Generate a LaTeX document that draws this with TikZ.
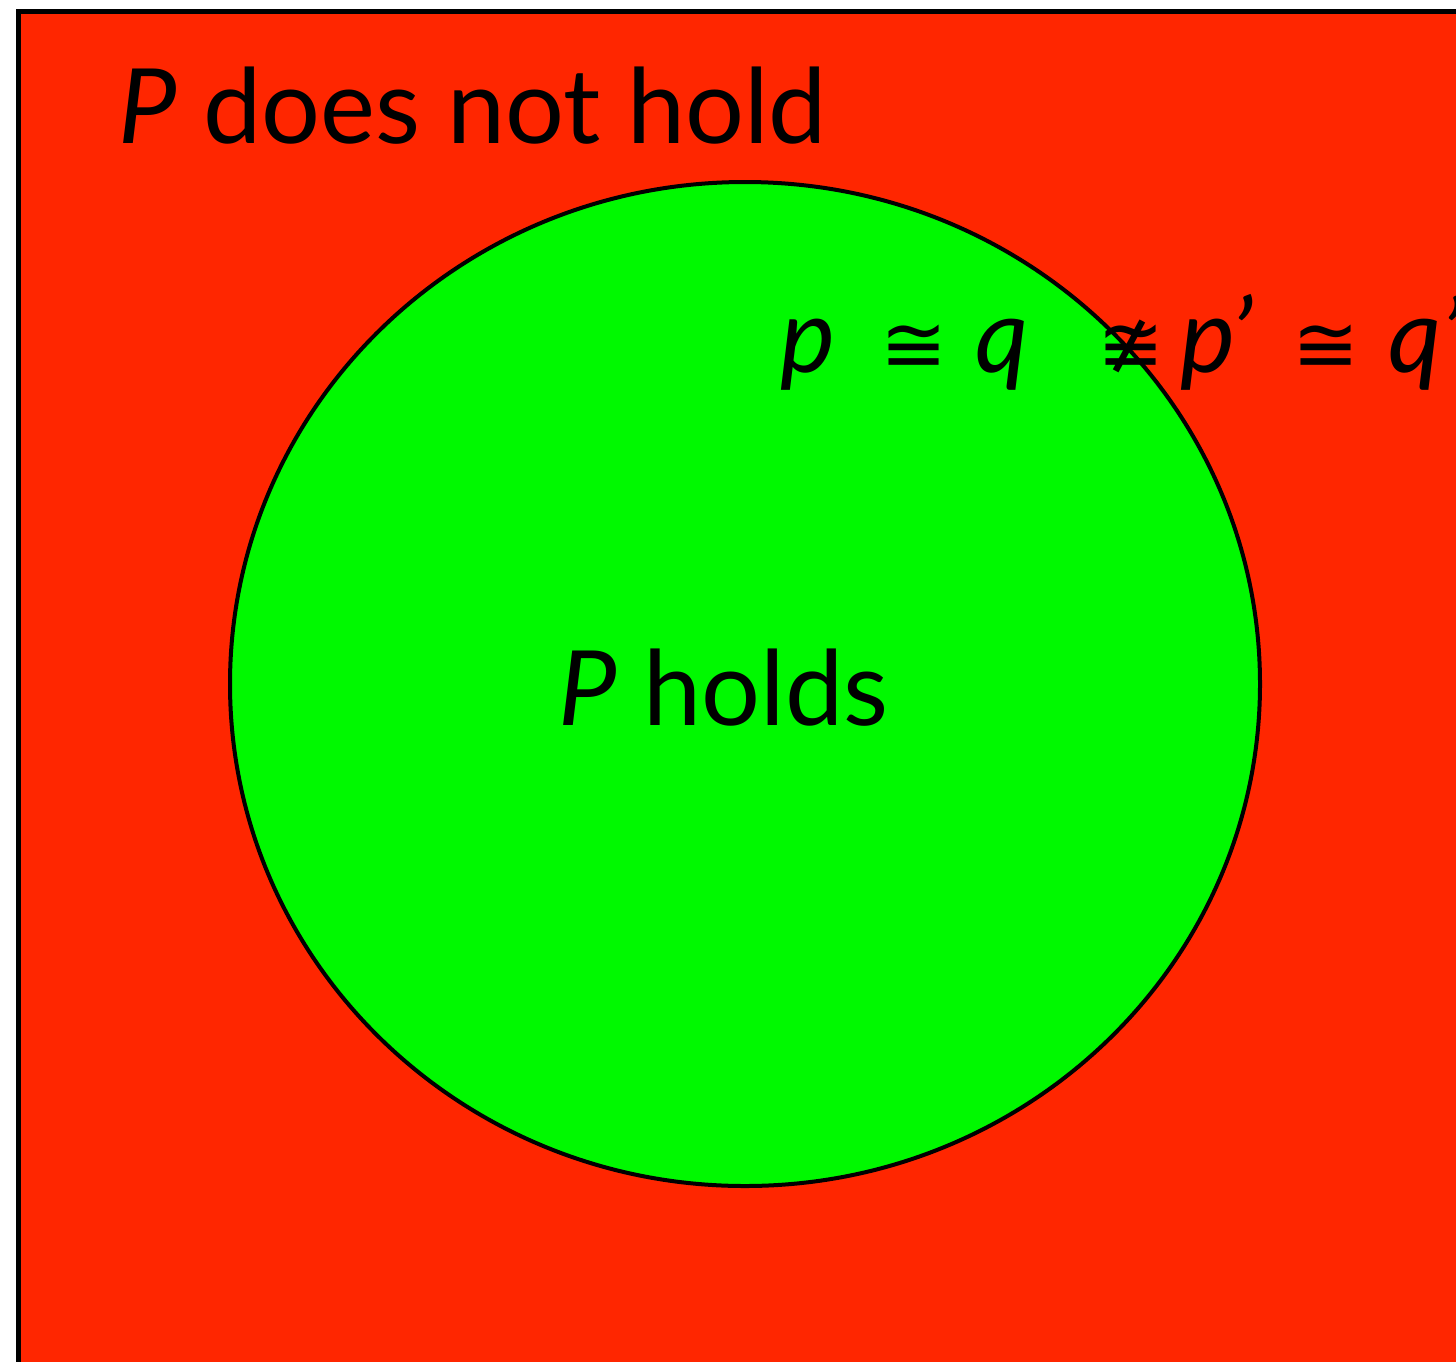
\documentclass[tikz,border=0pt]{standalone}
\usepackage{fontspec}
\setmainfont{Lato}
\newfontfamily\symfont{DejaVu Sans}
\definecolor{outred}{RGB}{255,38,0}
\definecolor{ingreen}{RGB}{0,249,0}
\begin{document}
\begin{tikzpicture}[x=0.5pt,y=-0.5pt,
  lbl/.style={font=\fontsize{52}{60}\selectfont, inner sep=0pt, anchor=base west},
  sym/.style={font=\symfont\fontsize{40}{48}\selectfont, inner sep=0pt, anchor=base west}]
\clip (0,0) rectangle (1456,1361);
\fill[white] (0,0) rectangle (1456,1361);
\filldraw[fill=outred, draw=black, line width=2.5pt] (18,11) rectangle (1480,1390);
\filldraw[fill=ingreen, draw=black, line width=2pt] (745,684) ellipse [x radius=515, y radius=502];
\node[lbl] (notholds) at (118,143) {\textit{P} does not hold};
\node[lbl] (holds) at (558,725) {\textit{P} holds};
\node[lbl] (p1) at (780,372) {\textit{p}};
\node[sym] (c1) at (880,372) {≅};
\node[lbl] (q1) at (975,372) {\textit{q}};
\node[sym] (n1) at (1097,372) {≇};
\node[lbl] (p2) at (1180,372) {\textit{p’}};
\node[sym] (c2) at (1292,372) {≅};
\node[lbl] (q2) at (1388,372) {\textit{q’}};
\end{tikzpicture}
\end{document}
